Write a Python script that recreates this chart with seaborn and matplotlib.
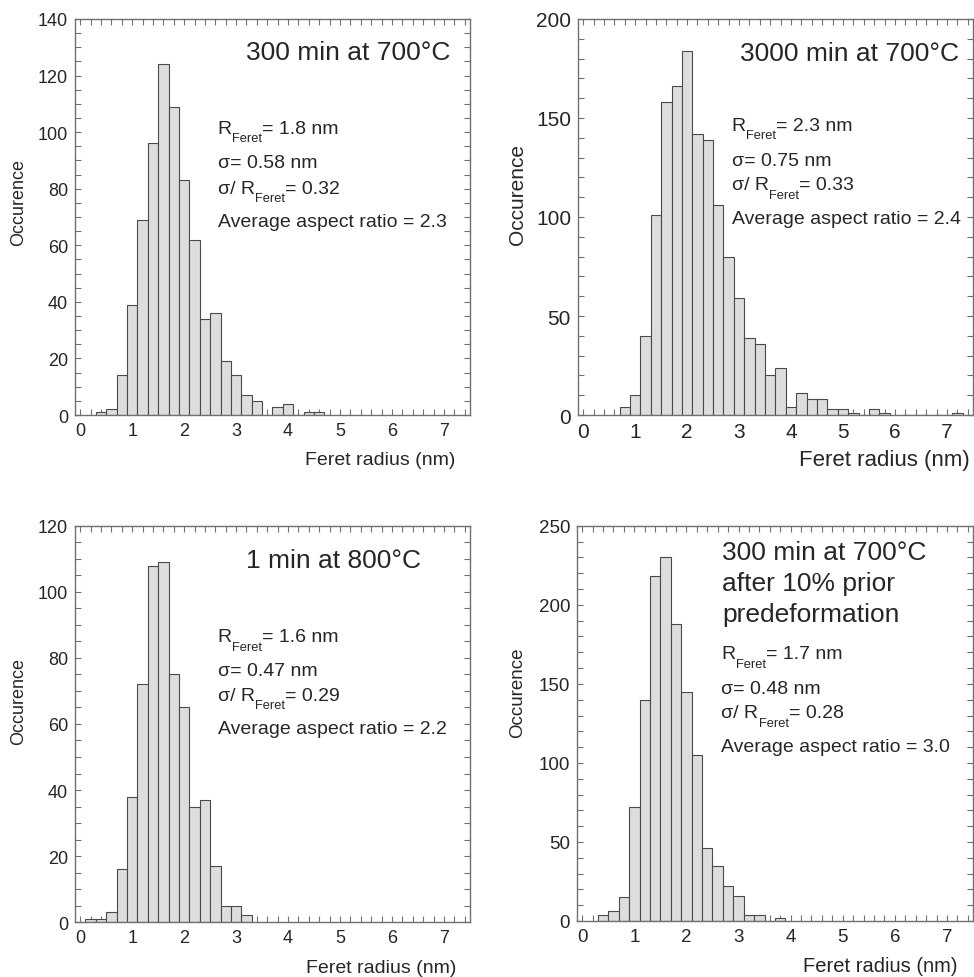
import numpy as np
import pandas as pd
import matplotlib
matplotlib.use("Agg")
import matplotlib.pyplot as plt
from matplotlib.ticker import MultipleLocator
import seaborn as sns

sns.set_style("ticks")
plt.rcParams["font.family"] = ["Liberation Sans", "DejaVu Sans"]

# bin centres (nm) and counts
centers_300 = [0.4, 0.6, 0.8, 1.0, 1.2, 1.4, 1.6, 1.8, 2.0, 2.2, 2.4, 2.6, 2.8,
               3.0, 3.2, 3.4, 3.6, 3.8, 4.0, 4.2, 4.4, 4.6]
counts_300 = [1, 2, 14, 39, 69, 96, 124, 109, 83, 62, 34, 36, 19,
              14, 7, 5, 0, 3, 4, 0, 1, 1]

centers_3000 = [0.8, 1.0, 1.2, 1.4, 1.6, 1.8, 2.0, 2.2, 2.4, 2.6, 2.8, 3.0, 3.2,
                3.4, 3.6, 3.8, 4.0, 4.2, 4.4, 4.6, 4.8, 5.0, 5.2, 5.4, 5.6, 5.8,
                6.0, 6.2, 6.4, 6.6, 6.8, 7.0, 7.2]
counts_3000 = [4, 10, 40, 101, 158, 166, 184, 142, 139, 106, 80, 59, 39,
               36, 20, 24, 4, 11, 8, 8, 3, 3, 1, 0, 3, 1,
               0, 0, 0, 0, 0, 0, 1]

centers_800 = [0.2, 0.4, 0.6, 0.8, 1.0, 1.2, 1.4, 1.6, 1.8, 2.0, 2.2, 2.4, 2.6,
               2.8, 3.0, 3.2]
counts_800 = [1, 1, 3, 16, 38, 72, 108, 109, 75, 65, 35, 37, 17, 5, 5, 2]

centers_def = [0.4, 0.6, 0.8, 1.0, 1.2, 1.4, 1.6, 1.8, 2.0, 2.2, 2.4, 2.6, 2.8,
               3.0, 3.2, 3.4, 3.6, 3.8]
counts_def = [4, 6, 15, 72, 140, 218, 230, 188, 145, 105, 46, 35, 22,
              16, 4, 4, 0, 2]

titles = ["300 min at 700°C", "3000 min at 700°C", "1 min at 800°C",
          "300 min at 700°C\nafter 10% prior\npredeformation"]
r_feret = ["1.8", "2.3", "1.6", "1.7"]
sigma = ["0.58", "0.75", "0.47", "0.48"]
ratio = ["0.32", "0.33", "0.29", "0.28"]
aspect = ["2.3", "2.4", "2.2", "3.0"]
ymax = [140, 200, 120, 250]
ymajor = [20, 50, 20, 50]
yminor = [5, 10, 5, 10]
bin_w = 0.2

panels = [
    dict(centers=centers_300, counts=counts_300,
         rect=[0.077, 0.5746, 0.4055, 0.405], fs=13,
         title_xy=(0.95, 0.899), title_ha="right",
         stat_x=0.361, stat_y=[0.712, 0.625, 0.561, 0.478],
         xlab=(0.962, -0.111), ylab=(-0.142, 0.54)),
    dict(centers=centers_3000, counts=counts_3000,
         rect=[0.5934, 0.5746, 0.4055, 0.405], fs=15,
         title_xy=(0.964, 0.897), title_ha="right",
         stat_x=0.389, stat_y=[0.72, 0.631, 0.570, 0.486],
         xlab=(0.992, -0.111), ylab=(-0.152, 0.56)),
    dict(centers=centers_800, counts=counts_800,
         rect=[0.077, 0.0562, 0.4055, 0.405], fs=13,
         title_xy=(0.876, 0.896), title_ha="right",
         stat_x=0.361, stat_y=[0.709, 0.624, 0.561, 0.476],
         xlab=(0.966, -0.114), ylab=(-0.142, 0.56)),
    dict(centers=centers_def, counts=counts_def,
         rect=[0.5924, 0.0573, 0.4066, 0.404], fs=13.5,
         title_xy=(0.367, 0.915), title_ha="left",
         stat_x=0.364, stat_y=[0.665, 0.577, 0.516, 0.431],
         xlab=(0.96, -0.113), ylab=(-0.15, 0.58)),
]


def sub_text(ax, x, y, pre, sub, post, fs=14):
    # text with a low-sitting subscript, like the original figure
    t1 = ax.text(x, y, pre, transform=ax.transAxes, ha="left",
                 va="baseline", fontsize=fs)
    t2 = ax.annotate(sub, xy=(1, 0), xycoords=t1, xytext=(0.3, -3.2),
                     textcoords="offset points", ha="left", va="baseline",
                     fontsize=fs * 0.66)
    ax.annotate(post, xy=(1, 0), xycoords=(t2, t1), ha="left", va="bottom",
                fontsize=fs)


spine_col = "#707070"
fig = plt.figure(figsize=(9.74, 9.78), dpi=100)
fig.set_facecolor("white")

for i, p in enumerate(panels):
    ax = fig.add_axes(p["rect"])
    df = pd.DataFrame({"radius": p["centers"], "count": p["counts"]})
    lo = float(df["radius"].min()) - bin_w / 2
    hi = float(df["radius"].max()) + bin_w / 2
    sns.histplot(data=df, x="radius", weights="count",
                 binwidth=bin_w, binrange=(lo, hi),
                 color="#dcdddc", edgecolor="#4a4a4a", linewidth=0.8,
                 alpha=1, ax=ax)

    ax.set_xlim(-0.1, 7.5)
    ax.set_ylim(0, ymax[i])
    ax.xaxis.set_major_locator(MultipleLocator(1))
    ax.xaxis.set_minor_locator(MultipleLocator(0.2))
    ax.yaxis.set_major_locator(MultipleLocator(ymajor[i]))
    ax.yaxis.set_minor_locator(MultipleLocator(yminor[i]))
    ax.tick_params(which="both", direction="in", top=True, right=True,
                   length=4.3, width=0.8, color=spine_col,
                   labelsize=p["fs"], pad=5)
    for s in ax.spines.values():
        s.set_color(spine_col)
        s.set_linewidth(1)
        s.set_visible(True)

    fs = p["fs"]
    ax.set_xlabel("Feret radius (nm)", fontsize=fs + 1, ha="right", va="center")
    ax.xaxis.set_label_coords(*p["xlab"])
    ax.set_ylabel("Occurence", fontsize=fs, va="center")
    ax.yaxis.set_label_coords(*p["ylab"])

    tx, ty = p["title_xy"]
    lines = titles[i].split("\n")
    for k, line in enumerate(lines):
        ax.text(tx, ty - k * 0.0785, line, transform=ax.transAxes,
                ha=p["title_ha"], va="baseline", fontsize=19)

    sx = p["stat_x"]
    sy = p["stat_y"]
    sub_text(ax, sx, sy[0], "R", "Feret", "= " + r_feret[i] + " nm")
    ax.text(sx, sy[1], "σ= " + sigma[i] + " nm", transform=ax.transAxes,
            ha="left", va="baseline", fontsize=14)
    sub_text(ax, sx, sy[2], "σ/ R", "Feret", "= " + ratio[i])
    ax.text(sx, sy[3], "Average aspect ratio = " + aspect[i],
            transform=ax.transAxes, ha="left", va="baseline", fontsize=14)

fig.savefig("out.png", dpi=100, facecolor="white")
